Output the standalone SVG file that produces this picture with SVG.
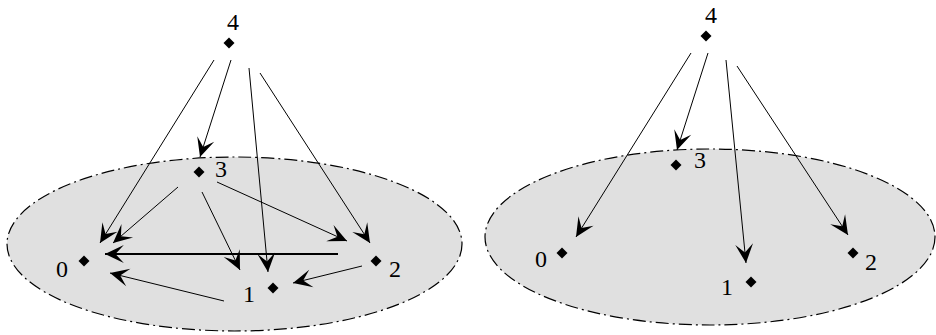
<svg xmlns="http://www.w3.org/2000/svg" width="936" height="335" viewBox="0 0 936 335">
<style>
.plane{fill:#e0e0e0;stroke:#000;stroke-width:1.2;stroke-dasharray:13 4 2 4}
.edge{stroke:#000;stroke-width:1;fill:none;marker-end:url(#ah)}
.thick{stroke-width:1.8}
.dot{fill:#000}
.lbl{font-family:"Liberation Serif","DejaVu Serif",serif;font-size:24px;fill:#000;text-anchor:middle}
</style>
<defs>
<marker id="ah" markerUnits="userSpaceOnUse" markerWidth="22" markerHeight="22" viewBox="-20 -10 21 20" refX="0" refY="0" orient="auto">
<path d="M0,0 L-18,-8.5 L-10,0 L-18,8.5 Z" fill="#000"/>
</marker>
</defs>
<g id="plane-left"><ellipse class="plane" cx="234.5" cy="244" rx="227.5" ry="87"/></g>
<g id="plane-right"><ellipse class="plane" cx="710" cy="237" rx="225" ry="88"/></g>
<g id="connectors">
<line class="edge" x1="214" y1="60" x2="100" y2="243"/>
<line class="edge" x1="231" y1="60" x2="200" y2="157"/>
<line class="edge" x1="249" y1="68" x2="268" y2="272"/>
<line class="edge" x1="260" y1="73" x2="370" y2="243"/>
<line class="edge" x1="178" y1="187" x2="113" y2="243"/>
<line class="edge" x1="202" y1="192" x2="240" y2="270"/>
<line class="edge" x1="217" y1="182" x2="347" y2="241"/>
<line class="edge thick" x1="338" y1="254" x2="105" y2="254"/>
<line class="edge" x1="362" y1="266" x2="293" y2="283"/>
<line class="edge" x1="224" y1="301" x2="110" y2="273"/>
<line class="edge" x1="691" y1="53" x2="576" y2="237"/>
<line class="edge" x1="708" y1="53" x2="677" y2="150"/>
<line class="edge" x1="726" y1="60" x2="746" y2="263"/>
<line class="edge" x1="737" y1="66" x2="848" y2="235"/>
</g>
<g id="L4"><polygon class="dot" points="229,37.5 234.5,43 229,48.5 223.5,43"/><text class="lbl" x="233" y="30">4</text></g>
<g id="L3"><polygon class="dot" points="199,166.5 204.5,172 199,177.5 193.5,172"/><text class="lbl" x="221" y="177">3</text></g>
<g id="L0"><polygon class="dot" points="84,255.5 89.5,261 84,266.5 78.5,261"/><text class="lbl" x="62" y="277">0</text></g>
<g id="L2"><polygon class="dot" points="376,255.5 381.5,261 376,266.5 370.5,261"/><text class="lbl" x="395" y="277">2</text></g>
<g id="L1"><polygon class="dot" points="273,282.5 278.5,288 273,293.5 267.5,288"/><text class="lbl" x="249" y="302">1</text></g>
<g id="R4"><polygon class="dot" points="706,30.5 711.5,36 706,41.5 700.5,36"/><text class="lbl" x="711" y="23">4</text></g>
<g id="R3"><polygon class="dot" points="676,159.5 681.5,165 676,170.5 670.5,165"/><text class="lbl" x="700" y="168">3</text></g>
<g id="R0"><polygon class="dot" points="562,247.5 567.5,253 562,258.5 556.5,253"/><text class="lbl" x="541" y="267">0</text></g>
<g id="R2"><polygon class="dot" points="853,247.5 858.5,253 853,258.5 847.5,253"/><text class="lbl" x="871" y="270">2</text></g>
<g id="R1"><polygon class="dot" points="751,276.5 756.5,282 751,287.5 745.5,282"/><text class="lbl" x="727" y="295">1</text></g>
</svg>
